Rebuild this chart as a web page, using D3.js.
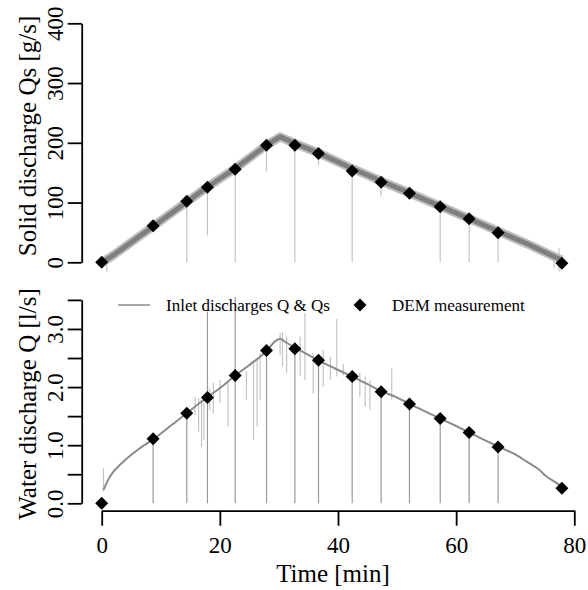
<!DOCTYPE html>
<html>
<head>
<meta charset="utf-8">
<script src="https://cdn.jsdelivr.net/npm/d3@7"></script>
<style>
  html, body { margin: 0; padding: 0; background: #fff; }
  svg { display: block; font-family: "Liberation Serif", "Times New Roman", serif; }
</style>
</head>
<body>
<svg id="chart" width="588" height="590"></svg>
<script>
// ---- DEM measurements ----
const demTime = [0, 8.7, 14.4, 17.9, 22.6, 27.9, 32.7, 36.7, 42.4, 47.3, 52.1, 57.3, 62.2, 67.1, 77.9];
const demQs   = [0, 61, 102, 125.5, 155.6, 196, 196, 182, 153, 134, 115.5, 93, 73, 49.5, -1.7];
const demQ    = [0, 1.11, 1.55, 1.82, 2.20, 2.63, 2.66, 2.46, 2.18, 1.92, 1.71, 1.46, 1.22, 0.97, 0.26];

// ---- Inlet solid discharge Qs (read along the band) ----
const qsTime  = [0.4, 2, 8.7, 14.4, 17.9, 22.6, 27.9, 30.2, 32.7, 36.7, 42.4, 47.3, 52.1, 57.3, 62.2, 67.1, 72, 77.8];
const qsValue = [2, 12, 60, 101, 126, 157, 196, 210, 199, 183, 157, 136, 116, 94, 73, 52, 31, 4];

// ---- Inlet water discharge Q ----
const qTime  = [0.3, 1.4, 3.7, 6.5, 8.7, 12, 14.4, 17.9, 20, 22.6, 25, 27.9, 29.5, 30.2, 31, 32.7, 34.5, 36.7, 39.5, 42.4, 45, 47.3, 50, 52.1, 55, 57.3, 60, 62.2, 65, 67.1, 70, 71.9, 74, 75.3, 76.5, 77.6];
const qValue = [0.23, 0.46, 0.72, 0.95, 1.1, 1.36, 1.55, 1.83, 1.98, 2.2, 2.38, 2.62, 2.8, 2.83, 2.78, 2.68, 2.58, 2.46, 2.32, 2.18, 2.05, 1.93, 1.82, 1.71, 1.57, 1.46, 1.33, 1.22, 1.08, 0.98, 0.84, 0.72, 0.58, 0.46, 0.38, 0.31];

// ---- spikes in the Qs record: [time, low, high] ----
const qsSpikes = [[0.85, -16, 4], [14.4, 0, 101], [17.9, 45, 126], [22.6, 0, 156], [27.9, 152, 196],
  [32.7, 0, 197], [36.7, 163, 182], [42.4, 0, 154], [47.3, 110, 135], [57.3, 0, 94], [62.2, 0, 73],
  [67.1, 0, 52], [76.6, -10, 12], [77.4, -16, 24]];

// ---- drops to zero in the Q record at DEM times: [time, high] ----
const qDrops = [[8.7, 1.1], [14.4, 1.55], [17.9, 3.3], [22.6, 3.55], [27.9, 2.62], [32.7, 2.68], [36.7, 2.46],
  [42.4, 2.18], [47.3, 1.93], [52.1, 1.71], [57.3, 1.46], [62.2, 1.22], [67.1, 0.98]];

// ---- noise spikes in the Q record: [time, low, high] ----
const qSpikes = [[0.3, 0.2, 0.6], [15.8, 1.52, 1.83], [16.4, 1.23, 1.81], [16.9, 0.97, 1.78], [17.3, 1.09, 1.83],
  [18.3, 1.6, 1.98], [18.9, 1.55, 2.07], [20.0, 1.73, 2.12], [21.4, 1.32, 2.07], [24.5, 1.78, 2.27],
  [25.7, 1.09, 2.41], [26.3, 1.32, 2.5], [26.8, 1.78, 2.58], [30.2, 2.55, 2.93], [30.6, 2.35, 2.95],
  [31.3, 2.24, 2.87], [33.6, 2.18, 2.87], [34.4, 2.12, 3.27], [35.8, 1.89, 2.59], [37.5, 2.0, 2.64],
  [38.7, 2.12, 2.52], [39.8, 2.18, 3.17], [40.9, 2.2, 2.4], [43.7, 1.83, 2.24], [44.6, 1.66, 2.18],
  [45.4, 1.61, 2.12], [49.1, 1.78, 2.32]];

// ---- ticks ----
const xTicks = [0, 20, 40, 60, 80];
const qsTicks = [0, 100, 200, 300, 400];
const qTicks = [0, 0.5, 1, 1.5, 2, 2.5, 3, 3.5];

const svg = d3.select("#chart");
const x = d3.scaleLinear([0, 80], [101.7, 574.3]);
const yTop = d3.scaleLinear([0, 400], [262.3, 23.3]);
const yBot = d3.scaleLinear([0, 3.5], [503.3, 299.9]);

const diamond = r => `M0,${-r}L${r},0L0,${r}L${-r},0Z`;

// ===== Top panel =====
const gTop = svg.append("g");
gTop.selectAll("line.sp").data(qsSpikes).join("line")
  .attr("x1", d => x(d[0])).attr("x2", d => x(d[0]))
  .attr("y1", d => yTop(d[1])).attr("y2", d => yTop(d[2]))
  .attr("stroke", "#c4c4c4").attr("stroke-width", 1.2);
const qsPts = qsTime.map((t, i) => [t, qsValue[i]]);
const lineTop = d3.line().x(d => x(d[0])).y(d => yTop(d[1]));
gTop.append("path").datum(qsPts).attr("d", lineTop)
  .attr("fill", "none").attr("stroke", "#bdbdbd").attr("stroke-width", 9).attr("stroke-linejoin", "round");
gTop.append("path").datum(qsPts).attr("d", lineTop)
  .attr("fill", "none").attr("stroke", "#7f7f7f").attr("stroke-width", 5).attr("stroke-linejoin", "round");
gTop.selectAll("path.dm").data(demTime.map((t, i) => [t, demQs[i]])).join("path")
  .attr("d", diamond(6.5)).attr("transform", d => `translate(${x(d[0])},${yTop(d[1])})`).attr("fill", "#000");

const axTop = svg.append("g").attr("transform", `translate(${x(0) - 20},0)`)
  .call(d3.axisLeft(yTop).tickValues(qsTicks).tickSize(14).tickSizeOuter(0).tickPadding(5));

// ===== Bottom panel =====
const gBot = svg.append("g");
gBot.selectAll("line.ns").data(qSpikes).join("line")
  .attr("x1", d => x(d[0])).attr("x2", d => x(d[0]))
  .attr("y1", d => yBot(d[1])).attr("y2", d => yBot(d[2]))
  .attr("stroke", "#c4c4c4").attr("stroke-width", 1.2);
gBot.selectAll("line.dr").data(qDrops).join("line")
  .attr("x1", d => x(d[0])).attr("x2", d => x(d[0]))
  .attr("y1", yBot(0)).attr("y2", d => yBot(d[1]))
  .attr("stroke", "#9a9a9a").attr("stroke-width", 1.2);
const qPts = qTime.map((t, i) => [t, qValue[i]]);
gBot.append("path").datum(qPts)
  .attr("d", d3.line().curve(d3.curveMonotoneX).x(d => x(d[0])).y(d => yBot(d[1])))
  .attr("fill", "none").attr("stroke", "#8a8a8a").attr("stroke-width", 2);
gBot.selectAll("path.dm").data(demTime.map((t, i) => [t, demQ[i]])).join("path")
  .attr("d", diamond(6.5)).attr("transform", d => `translate(${x(d[0])},${yBot(d[1])})`).attr("fill", "#000");

const axBot = svg.append("g").attr("transform", `translate(${x(0) - 20},0)`)
  .call(d3.axisLeft(yBot).tickValues(qTicks).tickSize(14).tickSizeOuter(0).tickPadding(5)
    .tickFormat(d => (Math.abs(d % 1) < 1e-9 ? d3.format(".1f")(d) : "")));

const axX = svg.append("g").attr("transform", `translate(0,510.7)`)
  .call(d3.axisBottom(x).tickValues(xTicks).tickSize(15).tickSizeOuter(0).tickPadding(12));

// axis styling
[axTop, axBot, axX].forEach(a => {
  a.selectAll("path.domain").attr("stroke", "#000").attr("stroke-width", 1.8);
  a.selectAll(".tick line").attr("stroke", "#000").attr("stroke-width", 1.8);
  a.selectAll("text").attr("font-family", "Liberation Serif, serif").attr("font-size", 23).attr("fill", "#000");
});
// rotate y tick labels (parallel to axis)
[[axTop, yTop], [axBot, yBot]].forEach(([a, s]) => {
  a.selectAll(".tick text")
    .attr("x", null).attr("dy", null).attr("text-anchor", "middle")
    .attr("transform", "translate(-19,0) rotate(-90)");
});
axX.selectAll(".tick text").attr("dy", null).attr("y", 42);

// axis titles
svg.append("text").attr("transform", "translate(36,136) rotate(-90)")
  .attr("text-anchor", "middle").attr("font-size", 25).text("Solid discharge Qs [g/s]");
svg.append("text").attr("transform", "translate(36,404) rotate(-90)")
  .attr("text-anchor", "middle").attr("font-size", 25).text("Water discharge Q [l/s]");
svg.append("text").attr("x", 333).attr("y", 582)
  .attr("text-anchor", "middle").attr("font-size", 25).text("Time [min]");

// legend
const leg = svg.append("g");
leg.append("line").attr("x1", 118).attr("x2", 150).attr("y1", 305).attr("y2", 305)
  .attr("stroke", "#8a8a8a").attr("stroke-width", 1.5);
leg.append("text").attr("x", 166).attr("y", 311).attr("font-size", 17).text("Inlet discharges Q & Qs");
leg.append("path").attr("d", diamond(6.5)).attr("transform", "translate(360,305)").attr("fill", "#000");
leg.append("text").attr("x", 392).attr("y", 311).attr("font-size", 17).text("DEM measurement");
</script>
</body>
</html>
